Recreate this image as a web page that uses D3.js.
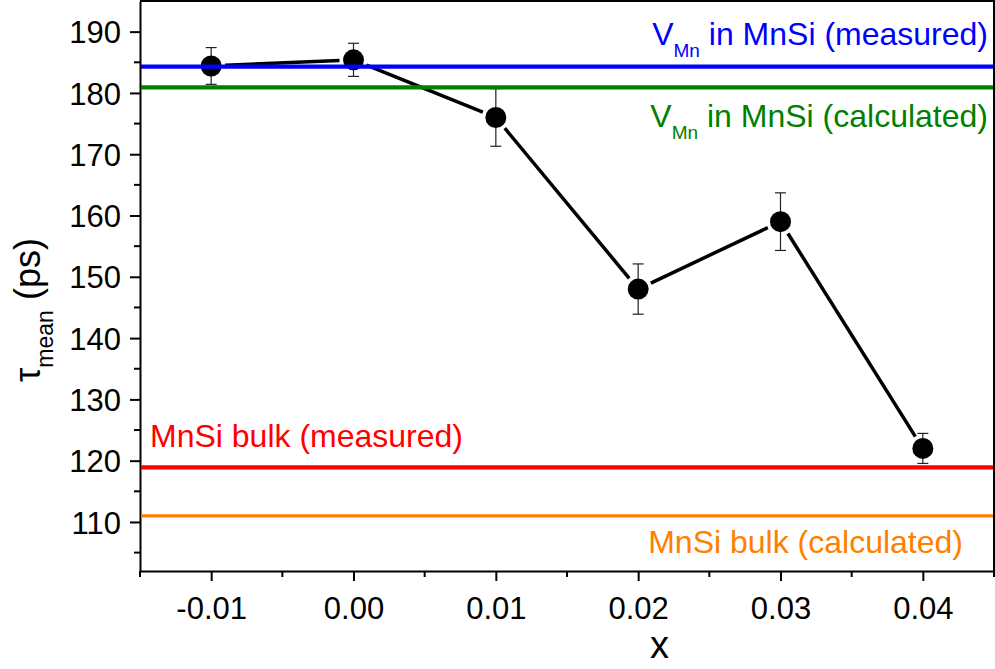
<!DOCTYPE html>
<html>
<head>
<meta charset="utf-8">
<script src="https://cdn.jsdelivr.net/npm/d3@7"></script>
<style>
  body { margin: 0; background: #fff; }
  text { font-family: "Liberation Sans", Arial, sans-serif; }
</style>
</head>
<body>
<div id="chart"></div>
<script>
// --- Data
const xValues = [-0.01, 0.00, 0.01, 0.02, 0.03, 0.04];
const tauMean = [184.4, 185.4, 176.0, 148.0, 159.0, 122.0];
const tauErr = [3.0, 2.7, 4.7, 4.1, 4.7, 2.45];

const refNames = ['VMn measured', 'VMn calculated', 'bulk measured', 'bulk calculated'];
const refValues = [184.3, 180.9, 118.9, 111.0];
const refColors = ['#0000ff', '#008000', '#ff0000', '#ff7f00'];

const xTicks = [-0.01, 0.00, 0.01, 0.02, 0.03, 0.04];
const yTicks = [110, 120, 130, 140, 150, 160, 170, 180, 190];

// --- Layout
const width = 995, height = 669;
const margin = { top: 1, right: 1, bottom: 98, left: 140 };

const svg = d3.select('#chart')
  .append('svg')
  .attr('width', width)
  .attr('height', height);

const x = d3.scaleLinear()
  .domain([-0.015, 0.045])
  .range([margin.left, width - margin.right]);

const y = d3.scaleLinear()
  .domain([102, 195])
  .range([height - margin.bottom, margin.top]);

const x0 = margin.left, x1 = width - margin.right;
const y0 = height - margin.bottom, y1 = margin.top;

// frame top / right
svg.append('path')
  .attr('d', `M${x0},${y1}H${x1}V${y0}`)
  .attr('fill', 'none')
  .attr('stroke', '#000')
  .attr('stroke-width', 2);

// minor ticks
const xMinor = d3.range(-0.015, 0.0451, 0.005).filter(v => !xTicks.some(t => Math.abs(t - v) < 1e-9));
const yMinor = d3.range(105, 195, 10);

const xAxis = svg.append('g')
  .attr('transform', `translate(0,${y0})`)
  .call(d3.axisBottom(x).tickValues(xTicks).tickSize(10).tickSizeOuter(0)
    .tickFormat(d => d3.format('.2f')(d).replace('−', '-')));
xAxis.append('g').selectAll('line').data(xMinor).join('line')
  .attr('x1', d => x(d)).attr('x2', d => x(d))
  .attr('y1', 0).attr('y2', 6)
  .attr('stroke', '#000').attr('stroke-width', 2);

const yAxis = svg.append('g')
  .attr('transform', `translate(${x0},0)`)
  .call(d3.axisLeft(y).tickValues(yTicks).tickSize(10).tickSizeOuter(0));
yAxis.append('g').selectAll('line').data(yMinor).join('line')
  .attr('y1', d => y(d)).attr('y2', d => y(d))
  .attr('x1', 0).attr('x2', -6)
  .attr('stroke', '#000').attr('stroke-width', 2);

svg.selectAll('.domain').attr('stroke-width', 2);
svg.selectAll('.tick line').attr('stroke-width', 2);
svg.selectAll('.tick text')
  .style('font-family', '"Liberation Sans", Arial, sans-serif')
  .style('font-size', '31px')
  .attr('fill', '#000');
xAxis.selectAll('.tick text').attr('y', 13).attr('dy', '1.12em');
yAxis.selectAll('.tick text').attr('x', -19).attr('dy', '0.36em');

// axis titles
svg.append('text')
  .attr('x', x(0.0215))
  .attr('y', 658)
  .attr('text-anchor', 'middle')
  .style('font-size', '38px')
  .text('x');

const yTitle = svg.append('text')
  .attr('transform', `translate(40,${(y0 + y1) / 2 + 24}) rotate(-90)`)
  .attr('text-anchor', 'middle')
  .style('font-size', '36px');
yTitle.append('tspan').text('τ');
yTitle.append('tspan').attr('dy', 13).style('font-size', '23px').text('mean');
yTitle.append('tspan').attr('dy', -13).text(' (ps)');

// --- Data line with gaps around the markers
const pts = xValues.map((v, i) => [x(v), y(tauMean[i])]);
const gap = 14;
const segs = d3.pairs(pts).map(([a, b]) => {
  const dx = b[0] - a[0], dy = b[1] - a[1];
  const len = Math.hypot(dx, dy);
  const ux = dx / len, uy = dy / len;
  return [a[0] + ux * gap, a[1] + uy * gap, b[0] - ux * gap, b[1] - uy * gap];
});

svg.append('g').selectAll('line').data(segs).join('line')
  .attr('x1', d => d[0]).attr('y1', d => d[1])
  .attr('x2', d => d[2]).attr('y2', d => d[3])
  .attr('stroke', '#000')
  .attr('stroke-width', 3.5);

// error bars
const err = svg.append('g').attr('stroke', '#222').attr('stroke-width', 1.2);
xValues.forEach((v, i) => {
  const cx = x(v), top = y(tauMean[i] + tauErr[i]), bot = y(tauMean[i] - tauErr[i]);
  err.append('line').attr('x1', cx).attr('x2', cx).attr('y1', top).attr('y2', bot);
  err.append('line').attr('x1', cx - 5.5).attr('x2', cx + 5.5).attr('y1', top).attr('y2', top);
  err.append('line').attr('x1', cx - 5.5).attr('x2', cx + 5.5).attr('y1', bot).attr('y2', bot);
});

svg.append('g').selectAll('circle').data(xValues).join('circle')
  .attr('cx', d => x(d))
  .attr('cy', (d, i) => y(tauMean[i]))
  .attr('r', 10.5)
  .attr('fill', '#000');

// --- Reference lines
svg.append('g').selectAll('line').data(refValues).join('line')
  .attr('x1', x0 + 1).attr('x2', x1 - 1)
  .attr('y1', d => y(d)).attr('y2', d => y(d))
  .attr('stroke', (d, i) => refColors[i])
  .attr('stroke-width', (d, i) => i === 3 ? 3.3 : 4.2);

// labels
function vmnLabel(text, color, yPos) {
  const t = svg.append('text')
    .attr('x', 988).attr('y', yPos)
    .attr('text-anchor', 'end')
    .attr('fill', color)
    .style('font-size', '32px');
  t.append('tspan').text('V');
  t.append('tspan').attr('dy', 12).style('font-size', '19px').text('Mn');
  t.append('tspan').attr('dy', -12).text(' in MnSi (' + text + ')');
}
vmnLabel('measured', refColors[0], 45);
vmnLabel('calculated', refColors[1], 127);

svg.append('text')
  .attr('x', 150).attr('y', 447)
  .attr('fill', refColors[2])
  .style('font-size', '32px')
  .text('MnSi bulk (measured)');

svg.append('text')
  .attr('x', 963).attr('y', 553)
  .attr('text-anchor', 'end')
  .attr('fill', refColors[3])
  .style('font-size', '32px')
  .text('MnSi bulk (calculated)');
</script>
</body>
</html>
